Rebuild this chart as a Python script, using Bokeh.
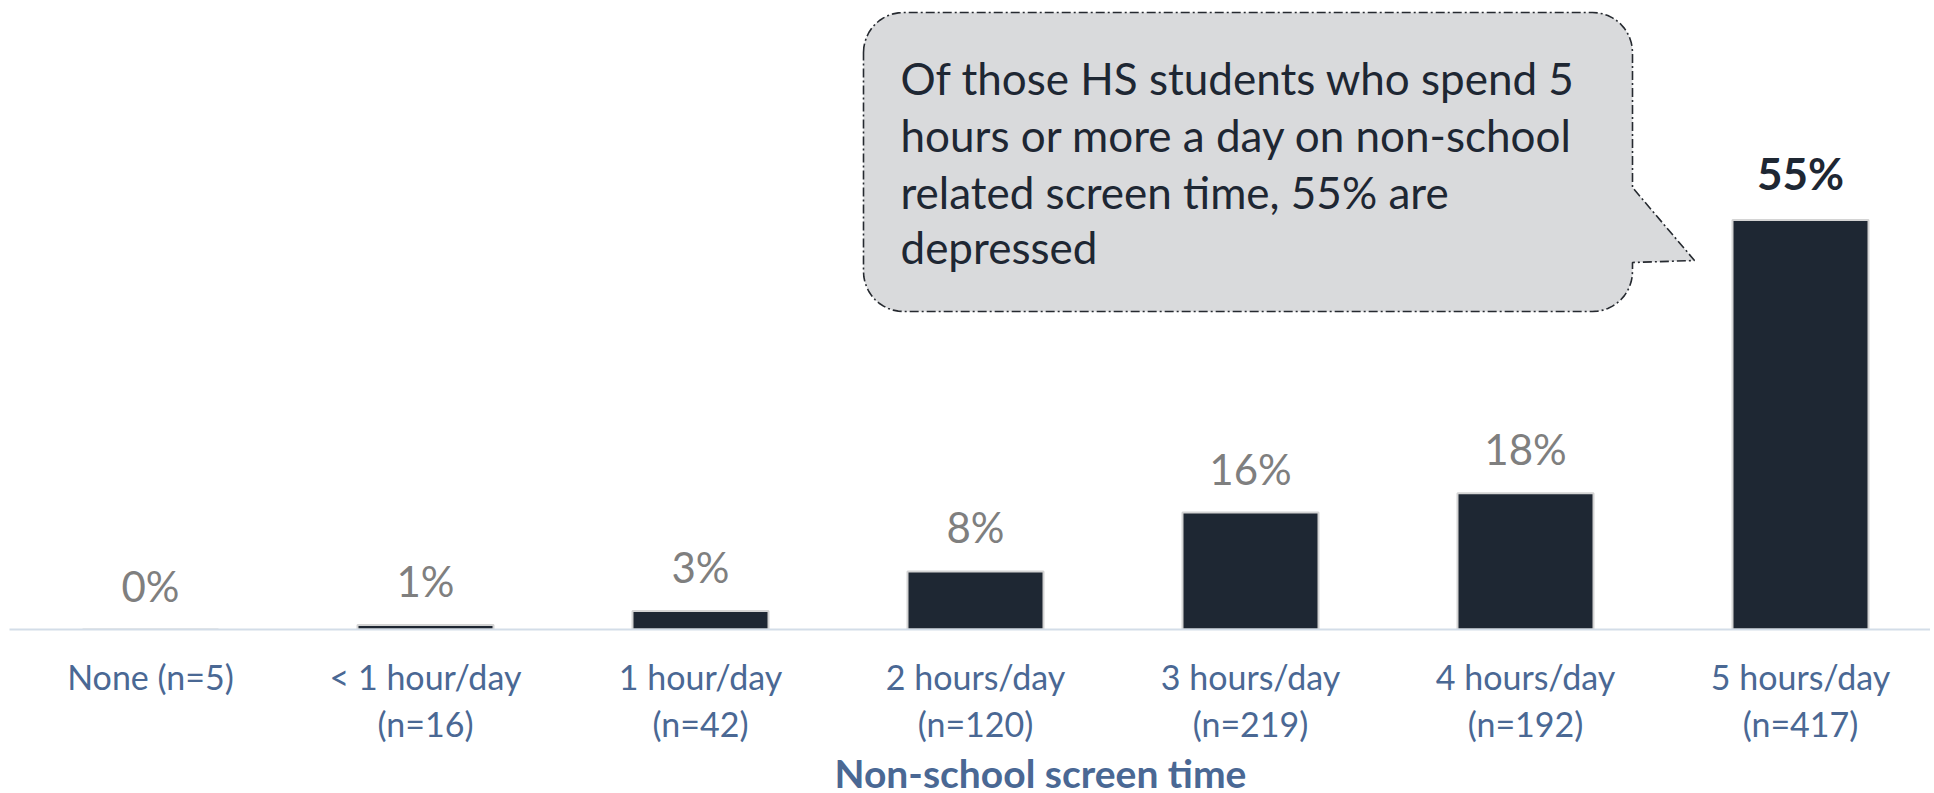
import math
from bokeh.plotting import figure
from bokeh.models import Range1d, FixedTicker, Title
from bokeh.core.properties import value
from bokeh.embed import file_html
from bokeh.resources import INLINE

# ---------------- data ----------------
categories = ["None (n=5)", "< 1 hour/day\n(n=16)", "1 hour/day\n(n=42)",
              "2 hours/day\n(n=120)", "3 hours/day\n(n=219)",
              "4 hours/day\n(n=192)", "5 hours/day\n(n=417)"]
pct = [0.0, 0.6, 2.5, 7.8, 15.7, 18.3, 55.0]
pct_labels = ["0%", "1%", "3%", "8%", "16%", "18%", "55%"]
axis_title = "Non-school screen time"
callout_lines = ["Of those HS students who spend 5",
                 "hours or more a day on non-school",
                 "related screen time, 55% are",
                 "depressed"]

# ---------------- layout ----------------
W = 1930
LEFT = 9                 # frame left edge (px)
FRAME_H = 629            # frame height (px) -> x axis at y=629
PX_PER_PCT = 7.445
PX_PER_CAT = 275.0
CAT0_PX = 150.0          # centre of first category (px)
X0 = (LEFT - CAT0_PX) / PX_PER_CAT
X1 = (W - CAT0_PX) / PX_PER_CAT
Y_END = FRAME_H / PX_PER_PCT

p = figure(width=W, frame_height=FRAME_H, output_backend="svg", toolbar_location=None,
           x_range=Range1d(X0, X1), y_range=Range1d(0, Y_END),
           min_border_left=LEFT, min_border_right=0, min_border_top=0, min_border_bottom=0,
           background_fill_color="white", border_fill_color="white")
p.outline_line_color = None
p.xgrid.grid_line_color = None
p.ygrid.grid_line_color = None
p.yaxis.visible = False

FONT = "Lato"
idx = list(range(len(categories)))

p.vbar(x=idx, top=pct, width=136 / PX_PER_CAT, fill_color="#1e2733",
       line_color="#d4d4d4", line_width=2)

# value labels
p.text(x=idx[:-1], y=pct[:-1], text=pct_labels[:-1], text_align="center",
       text_baseline="alphabetic", y_offset=-44, text_color="#7f7f7f",
       text_font=value(FONT), text_font_size="42px")
p.text(x=idx[-1:], y=pct[-1:], text=pct_labels[-1:], text_align="center",
       text_baseline="alphabetic", y_offset=-47, text_color="#1e2733",
       text_font=value(FONT), text_font_size="44px", text_font_style="bold")

# x axis
ax = p.xaxis[0]
ax.ticker = FixedTicker(ticks=idx)
ax.major_label_overrides = {i: c for i, c in enumerate(categories)}
ax.major_label_text_font = FONT
ax.major_label_text_font_size = "34px"
ax.major_label_text_color = "#4a6894"
ax.major_label_text_line_height = 1.16
ax.major_label_standoff = 26
ax.major_tick_line_color = None
ax.minor_tick_line_color = None
ax.major_tick_out = 0
ax.axis_line_color = "#d3dde8"
ax.axis_line_width = 2

t = Title(text=axis_title, align="left", offset=825, text_font=FONT,
          text_font_size="39px", text_font_style="bold", text_color="#4a6894",
          standoff=0)
p.add_layout(t, "below")

# ---------------- callout (px -> data) ----------------
def dx(px):
    return X0 + (px - LEFT) / PX_PER_CAT

def dy(py):
    return (FRAME_H - py) / PX_PER_PCT

L, R, T, B, RAD = 863, 1632, 12, 311, 40
tail_top, tip_x, tip_y, tail_bot = 187, 1694, 260, 262

def arc(cx, cy, a0, a1, n=12):
    pts = []
    for k in range(n + 1):
        a = math.radians(a0 + (a1 - a0) * k / n)
        pts.append((cx + RAD * math.cos(a), cy + RAD * math.sin(a)))
    return pts

pts = []
pts += arc(L + RAD, T + RAD, 180, 270)          # top-left
pts += arc(R - RAD, T + RAD, 270, 360)          # top-right
pts += [(R, tail_top), (tip_x, tip_y), (R, tail_bot)]
pts += arc(R - RAD, B - RAD, 0, 90)             # bottom-right
pts += arc(L + RAD, B - RAD, 90, 180)           # bottom-left
pts.append(pts[0])
p.patch([dx(a) for a, b in pts], [dy(b) for a, b in pts], fill_color="#d9dadc",
        line_color="#262a30", line_width=1.6, line_dash="9 3 2 3")

baselines = [92 - 15, 149 - 15, 206 - 15, 263 - 17]
p.text(x=[dx(900)] * 4, y=[dy(b) for b in baselines], text=callout_lines,
       text_align="left", text_baseline="alphabetic", text_color="#1e2733",
       text_font=value(FONT), text_font_size="44px")

open("out.html", "w").write(file_html(p, INLINE))
